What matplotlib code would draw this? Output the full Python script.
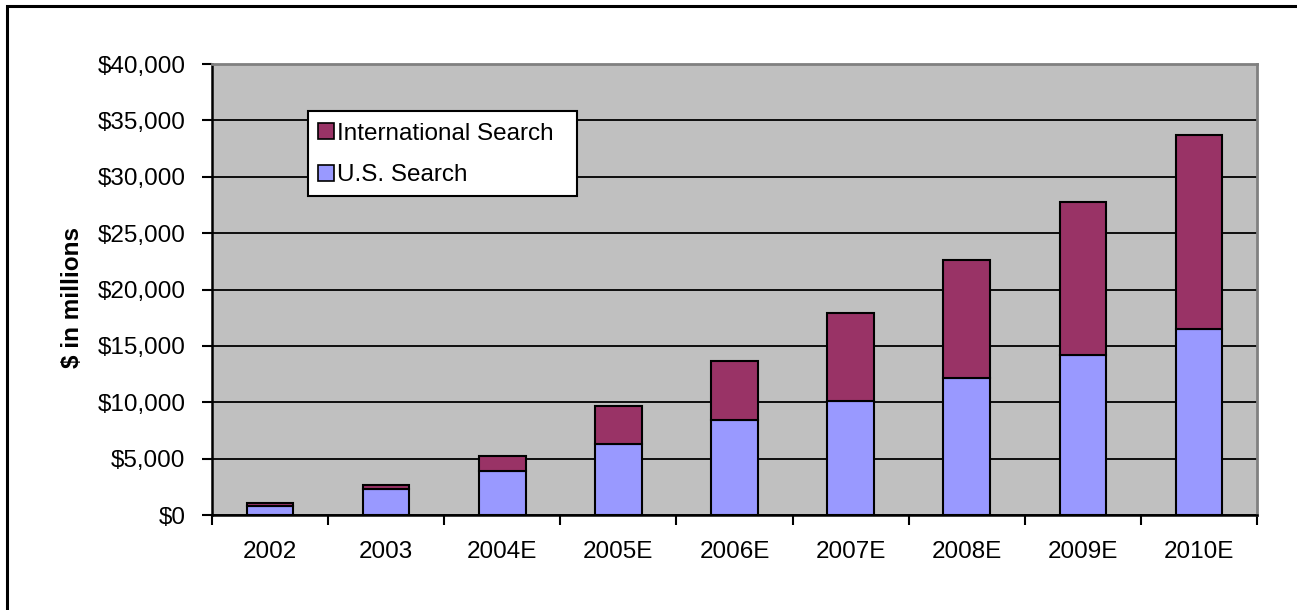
import matplotlib
matplotlib.use("Agg")
import matplotlib.pyplot as plt
from matplotlib.patches import Rectangle, Patch
from matplotlib.ticker import FuncFormatter, MultipleLocator
import numpy as np

categories = ["2002", "2003", "2004E", "2005E", "2006E", "2007E", "2008E", "2009E", "2010E"]
us_search = [800, 2280, 3880, 6300, 8430, 10140, 12120, 14190, 16500]
intl_search = [260, 380, 1380, 3370, 5260, 7780, 10500, 13540, 17230]

plt.rcParams['font.family'] = ['Liberation Sans', 'DejaVu Sans']
FS = 17.5

fig = plt.figure(figsize=(12.97, 6.10), dpi=100)
fig.patch.set_facecolor('white')
# outer frame
fig.add_artist(Rectangle((7/1297, -0.05), 1.1, (610-6)/610 + 0.05, transform=fig.transFigure,
                         fill=False, edgecolor='black', linewidth=2.2))

L, R, T, B = 212, 1257, 64, 515
ax = fig.add_axes([L/1297, (610-B)/610, (R-L)/1297, (B-T)/610])
ax.set_facecolor('#C0C0C0')

x = np.arange(len(categories))
w = 0.4
ax.bar(x, us_search, width=w, color='#9999FF', edgecolor='black', linewidth=1.5, zorder=3,
       label='U.S. Search')
ax.bar(x, intl_search, width=w, bottom=us_search, color='#993366', edgecolor='black',
       linewidth=1.5, zorder=3, label='International Search')

ax.set_xlim(-0.5, len(categories) - 0.5)
ax.set_ylim(0, 40000)
ax.yaxis.set_major_locator(MultipleLocator(5000))
ax.yaxis.set_major_formatter(FuncFormatter(lambda v, p: f"${int(v):,}"))
ax.grid(axis='y', color='black', linewidth=1.3, zorder=1)
ax.set_axisbelow(True)

ax.set_xticks(x)
ax.set_xticklabels(categories)
ax.set_xticks(np.arange(-0.5, len(categories)), minor=True)
ax.tick_params(axis='x', which='major', length=0, labelsize=FS, pad=19)
ax.tick_params(axis='x', which='minor', length=7, width=1.5, direction='out', color='black')
ax.tick_params(axis='y', length=7, width=1.5, direction='out', labelsize=FS, pad=12)

for s in ['left', 'bottom']:
    ax.spines[s].set_color('black')
    ax.spines[s].set_linewidth(1.8)
for s in ['right', 'top']:
    ax.spines[s].set_color('#808080')
    ax.spines[s].set_linewidth(2)

ax.set_ylabel('$ in millions', fontsize=FS, fontweight='bold')
ax.yaxis.set_label_coords((84 - L) / (R - L), (B - 298) / (B - T))

# legend frame drawn explicitly
lx0, lx1, ly0, ly1 = 308, 577, 111, 196
ax.add_patch(Rectangle(((lx0 - L) / (R - L), (B - ly1) / (B - T)),
                       (lx1 - lx0) / (R - L), (ly1 - ly0) / (B - T),
                       transform=ax.transAxes, facecolor='white', edgecolor='black',
                       linewidth=1.5, zorder=4))
handles = [Patch(facecolor='#993366', edgecolor='black', linewidth=1.2),
           Patch(facecolor='#9999FF', edgecolor='black', linewidth=1.2)]
leg = ax.legend(handles, ['International Search', 'U.S. Search'],
                loc='upper left', bbox_to_anchor=((318 - L) / (R - L), (B - 122.5) / (B - T)),
                borderaxespad=0, fontsize=FS, frameon=False,
                handlelength=0.65, handleheight=0.65,
                handletextpad=0.15, labelspacing=0.81, borderpad=0)
leg.set_zorder(5)

fig.savefig('out.png', dpi=100, facecolor='white')
